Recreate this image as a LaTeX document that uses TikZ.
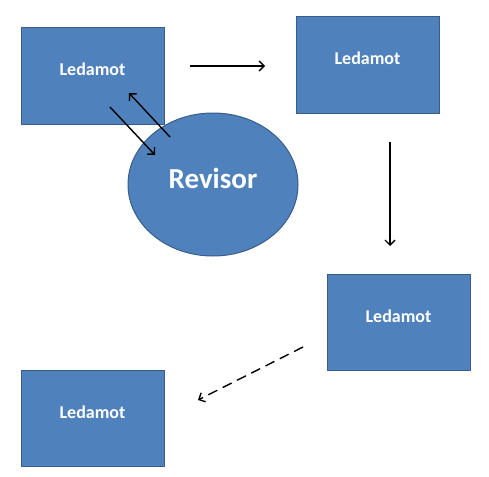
\documentclass[tikz,border=0pt]{standalone}
\usepackage{fontspec}
\setmainfont{Carlito}
\usetikzlibrary{arrows.meta,shapes.geometric,positioning}
\definecolor{boxfill}{HTML}{4F81BD}
\definecolor{boxline}{HTML}{385D8A}
\tikzset{
  ledbox/.style={draw=boxline, fill=boxfill, line width=1pt, rectangle,
    minimum width=143pt, minimum height=96pt, inner sep=0pt,
    text=white, font=\bfseries\fontsize{18}{20}\selectfont,
    text height=13pt, text depth=13pt},
  revbox/.style={draw=boxline, fill=boxfill, line width=1pt, ellipse,
    minimum width=170pt, minimum height=143pt, inner sep=0pt,
    text=white, font=\bfseries\fontsize{29}{32}\selectfont,
    text height=20pt, text depth=12pt},
  flow/.style={-{Straight Barb[length=5pt,width=10pt,line width=1.4pt]},
    line width=1.4pt, black}
}
\begin{document}
\begin{tikzpicture}[x=1pt,y=-1pt]
\useasboundingbox (0,0) rectangle (489,476);
% boxes
\node[ledbox] (L1) at (92.5,76) {Ledamot};
\node[ledbox] (L2) at (367.5,65) {Ledamot};
\node[ledbox] (L3) at (398.5,322) {Ledamot};
\node[ledbox] (L4) at (92.5,418) {Ledamot};
\node[revbox] (R) at (213,184.5) {Revisor};
% arrow ends
\coordinate (h1) at (190,66);
\coordinate (h2) at (265,66);
\coordinate (v1) at (390,142);
\coordinate (v2) at (390,246);
\coordinate (d1) at (303,347);
\coordinate (d2) at (198,400);
\coordinate (a1) at (110,107);
\coordinate (a2) at (155,155);
\coordinate (b1) at (170,137);
\coordinate (b2) at (129,93);
% arrows
\draw[flow] (h1) -- (h2);
\draw[flow] (v1) -- (v2);
\draw[flow, dash pattern=on 10pt off 6pt] (d1) -- (d2);
\draw[flow] (a1) -- (a2);
\draw[flow] (b1) -- (b2);
\end{tikzpicture}
\end{document}
